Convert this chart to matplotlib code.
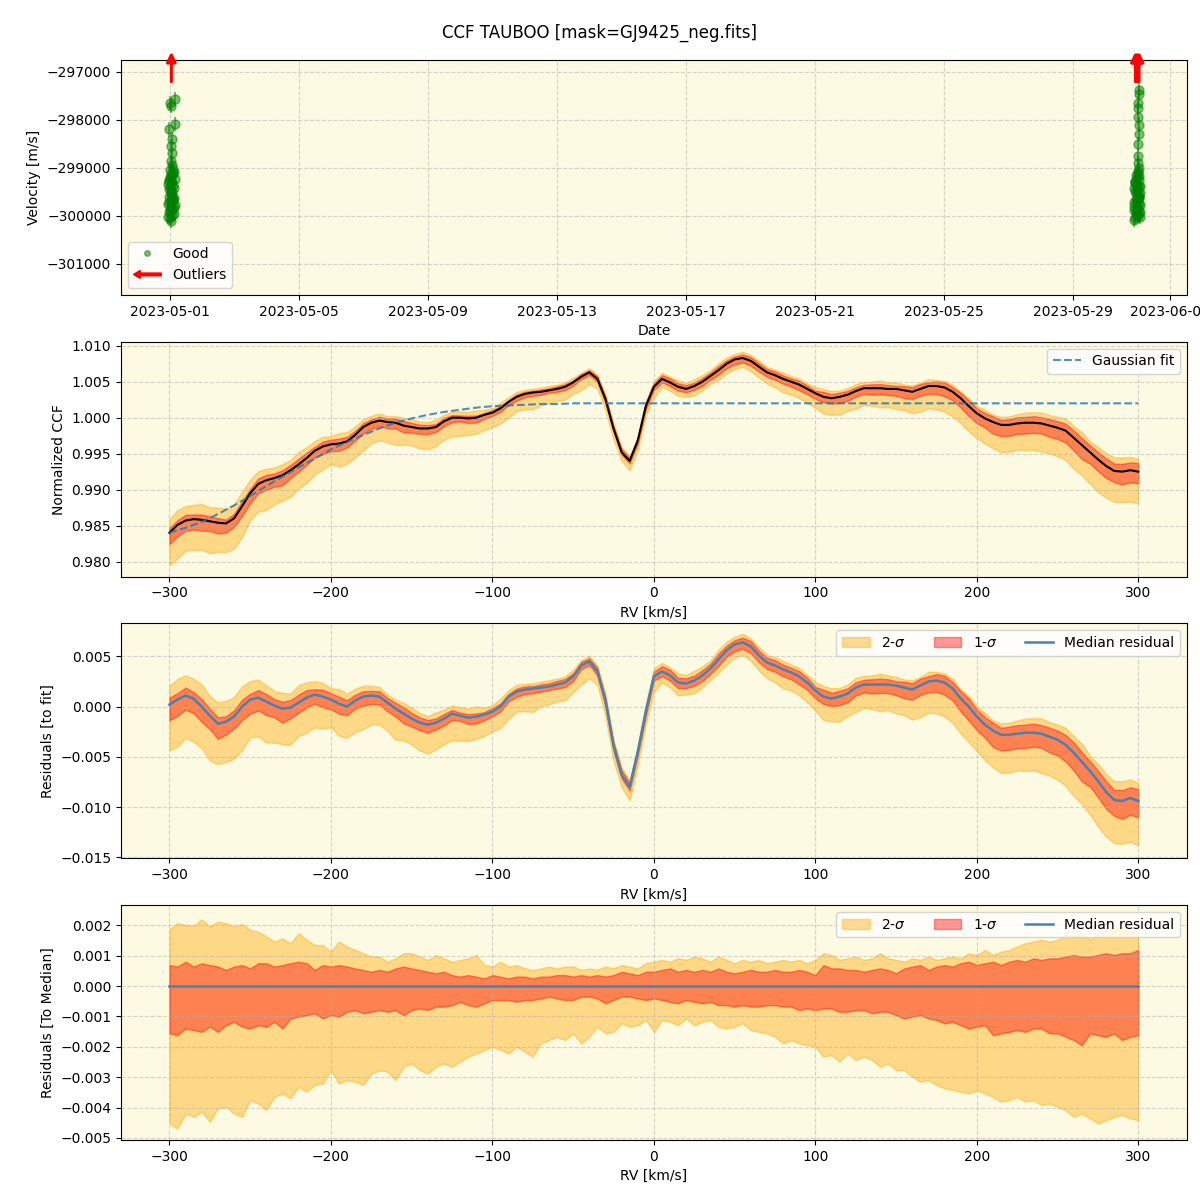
import numpy as np
import pandas as pd
import matplotlib
matplotlib.use('Agg')
import matplotlib.pyplot as plt
import matplotlib.patches as mpatches
from matplotlib.lines import Line2D
from matplotlib.legend_handler import HandlerPatch

# ---- top panel: RV time series (m/s) ----
vel_left = [-300050, -299980, -299920, -299870, -299800, -299750, -299700, -299650,
            -299600, -299550, -299500, -299450, -299400, -299350, -299300, -299250,
            -299200, -299150, -299100, -299050, -298950, -298850, -298700, -298550,
            -298400, -298200, -298080, -297700, -297650, -297560,
            -300100, -300020, -299960, -299900, -299820, -299720, -299620, -299520,
            -299420, -299330, -299230, -299130, -299080, -299020, -299880, -299680,
            -299480, -299280, -299780, -299580]
hours_left = [0.2, 1.5, -0.8, 2.2, 0.6, -1.2, 1.0, 2.6, -0.4, 0.9, 1.8, -1.0, 0.3, 2.4,
              1.2, -0.6, 0.0, 1.6, 2.0, -0.2, 1.4, 1.1, 1.7, 0.8, 1.3, -0.9, 3.7, 1.0,
              0.2, 3.7,
              1.0, -1.5, 3.0, 0.4, 2.8, -0.9, 3.2, 0.7, 2.9, -1.3, 3.4, 0.5, 2.7, 1.9,
              -0.3, 2.3, 1.1, -0.7, 3.5, 1.6]
vel_right = [-300050, -300000, -299950, -299900, -299850, -299800, -299750, -299700,
             -299650, -299600, -299550, -299500, -299450, -299400, -299350, -299300,
             -299250, -299200, -299100, -299000, -298900, -298750, -298500, -298300,
             -298100, -297950, -297750, -297650, -297450, -297380,
             -300080, -300020, -299970, -299880, -299780, -299680, -299580, -299480,
             -299380, -299280, -299180, -299150, -299060, -299920, -299720, -299520,
             -299320, -299620, -299820, -299420]
hours_right = [22.0, 24.5, 25.3, 23.0, 24.8, 21.6, 25.0, 23.8, 24.2, 25.4, 22.8, 24.6,
               23.4, 25.2, 24.0, 22.4, 24.9, 23.6, 24.4, 25.1, 24.7, 24.8, 24.6, 24.9,
               25.0, 24.5, 24.3, 24.8, 25.0, 24.9,
               21.8, 25.6, 23.2, 21.5, 25.7, 22.6, 25.5, 21.9, 25.8, 22.2, 25.3, 23.0,
               24.1, 25.9, 21.7, 25.6, 22.5, 25.2, 23.5, 21.6]
vel_err = 150
outlier_times = ['2023-05-01 01:00', '2023-05-30 22:30', '2023-05-30 23:15',
                 '2023-05-31 00:00', '2023-05-31 00:40', '2023-05-31 01:10']

# ---- CCF panels (RV grid in km/s) ----
rv = np.arange(-300, 301, 5)

ccf_med = [0.9840, 0.9851, 0.9857, 0.9859, 0.9858, 0.9856, 0.9854, 0.9853, 0.9860, 0.9877,
           0.9895, 0.9908, 0.9913, 0.9916, 0.9920, 0.9927, 0.9935, 0.9944, 0.9954, 0.9960,
           0.9963, 0.9964, 0.9967, 0.9976, 0.9987, 0.9993, 0.9996, 0.9994, 0.9993, 0.9989,
           0.9987, 0.9985, 0.9985, 0.9987, 0.9995, 1.0000, 1.0000, 0.9999, 1.0000, 1.0004,
           1.0007, 1.0013, 1.0022, 1.0029, 1.0033, 1.0035, 1.0036, 1.0038, 1.0040, 1.0043,
           1.0049, 1.0057, 1.0063, 1.0054, 1.0026, 0.9985, 0.9952, 0.9940, 0.9968, 1.0016,
           1.0043, 1.0054, 1.0049, 1.0043, 1.0040, 1.0044, 1.0050, 1.0058, 1.0066, 1.0075,
           1.0081, 1.0083, 1.0079, 1.0071, 1.0063, 1.0059, 1.0054, 1.0050, 1.0046, 1.0040,
           1.0034, 1.0029, 1.0027, 1.0029, 1.0032, 1.0037, 1.0041, 1.0041, 1.0041, 1.0040,
           1.0040, 1.0038, 1.0036, 1.0040, 1.0044, 1.0044, 1.0042, 1.0036, 1.0027, 1.0016,
           1.0006, 0.9999, 0.9994, 0.9990, 0.9990, 0.9992, 0.9993, 0.9993, 0.9992, 0.9989,
           0.9986, 0.9982, 0.9972, 0.9962, 0.9952, 0.9942, 0.9933, 0.9926, 0.9925, 0.9927,
           0.9925]

res_med = [0.0002, 0.0007, 0.0011, 0.0008, 0.0000, -0.0009, -0.0017, -0.0015, -0.0010, 0.0000,
           0.0007, 0.0009, 0.0005, 0.0001, -0.0002, -0.0001, 0.0004, 0.0009, 0.0012, 0.0010,
           0.0007, 0.0003, 0.0000, 0.0006, 0.0010, 0.0011, 0.0010, 0.0004, -0.0002, -0.0007,
           -0.0012, -0.0016, -0.0018, -0.0016, -0.0012, -0.0007, -0.0009, -0.0011, -0.0010, -0.0008,
           -0.0005, 0.0000, 0.0010, 0.0015, 0.0017, 0.0018, 0.0019, 0.0020, 0.0022, 0.0024,
           0.0030, 0.0041, 0.0045, 0.0035, 0.0006, -0.0039, -0.0068, -0.0080, -0.0045, -0.0005,
           0.0030, 0.0035, 0.0031, 0.0024, 0.0023, 0.0026, 0.0031, 0.0038, 0.0047, 0.0056,
           0.0062, 0.0064, 0.0060, 0.0051, 0.0044, 0.0041, 0.0037, 0.0034, 0.0030, 0.0024,
           0.0016, 0.0010, 0.0008, 0.0010, 0.0013, 0.0019, 0.0022, 0.0022, 0.0022, 0.0022,
           0.0021, 0.0019, 0.0017, 0.0021, 0.0025, 0.0026, 0.0024, 0.0018, 0.0008, 0.0000,
           -0.0010, -0.0018, -0.0024, -0.0028, -0.0028, -0.0027, -0.0026, -0.0026, -0.0027, -0.0030,
           -0.0033, -0.0038, -0.0046, -0.0055, -0.0064, -0.0074, -0.0085, -0.0093, -0.0094, -0.0091,
           -0.0094]

# spread of the CCF ensemble around its median, in units of 1e-3
sig2_up = [1.87, 2.07, 2.01, 1.98, 2.20, 1.96, 2.12, 2.07, 1.96, 2.04, 1.85, 1.79, 1.63, 1.46,
           1.57, 1.41, 1.74, 1.52, 1.35, 1.35, 1.13, 1.46, 1.30, 1.19, 1.08, 0.97, 0.97, 0.80,
           0.91, 1.08, 1.08, 0.97, 0.86, 1.02, 0.91, 0.80, 0.86, 0.91, 1.02, 0.69, 0.64, 0.80,
           0.64, 0.69, 0.58, 0.53, 0.58, 0.64, 0.58, 0.64, 0.64, 0.53, 0.58, 0.53, 0.64, 0.58,
           0.69, 0.64, 0.58, 0.75,
           0.80, 0.86, 0.80, 0.91, 0.86, 0.97, 0.91, 0.80, 0.97, 0.86, 0.75, 0.86, 0.80, 0.86,
           0.75, 0.80, 0.86, 0.80, 0.86, 0.75, 0.86, 1.08, 1.02, 0.86, 0.91, 0.97, 0.86, 0.91,
           1.08, 0.91, 0.86,
           0.80, 0.91, 0.86, 0.97, 0.86, 0.91, 0.97, 0.91, 1.08, 1.02, 1.19, 1.02, 1.13, 1.19,
           1.30, 1.41, 1.46, 1.52, 1.46, 1.52, 1.68, 1.63, 1.79, 1.52, 1.74, 1.79, 1.90, 1.96,
           1.85, 1.79]
sig1_up = [0.69, 0.64, 0.80, 0.64, 0.75, 0.69, 0.64, 0.53, 0.64, 0.69, 0.58, 0.75, 0.75, 0.64,
           0.69, 0.75, 0.80, 0.75, 0.53, 0.69, 0.64, 0.69, 0.64, 0.58, 0.53, 0.47, 0.53, 0.47,
           0.58, 0.64, 0.58, 0.53, 0.47, 0.42, 0.47, 0.36, 0.31, 0.36, 0.31, 0.25, 0.36, 0.31,
           0.25, 0.31, 0.31, 0.25, 0.31, 0.31, 0.36, 0.36, 0.31, 0.36, 0.31, 0.36, 0.31, 0.36,
           0.47, 0.42, 0.36, 0.47,
           0.47, 0.53, 0.58, 0.47, 0.53, 0.47, 0.53, 0.47, 0.58, 0.47, 0.42, 0.47, 0.53, 0.47,
           0.47, 0.53, 0.47, 0.47, 0.53, 0.47, 0.36, 0.69, 0.58, 0.58, 0.53, 0.53, 0.47, 0.53,
           0.58, 0.53, 0.42,
           0.58, 0.64, 0.69, 0.53, 0.64, 0.69, 0.64, 0.75, 0.80, 0.69, 0.75, 0.80, 0.69, 0.80,
           0.86, 0.80, 0.91, 0.86, 0.91, 0.91, 0.97, 1.02, 0.97, 0.97, 1.02, 1.08, 1.02, 1.08,
           1.08, 1.19]
sig1_dn = [-1.56, -1.62, -1.40, -1.45, -1.51, -1.34, -1.51, -1.29, -1.18, -1.34, -1.40, -1.29,
           -1.34, -1.18, -1.40, -1.07, -1.01, -0.96, -0.90, -1.07, -0.96, -1.01, -0.85, -0.79,
           -0.90, -0.85, -0.79, -0.85,
           -0.79, -0.96, -0.79, -0.74, -0.79, -0.68, -0.68, -0.63, -0.52, -0.63, -0.68, -0.57,
           -0.46, -0.46, -0.46, -0.52, -0.46, -0.46, -0.41, -0.35, -0.41, -0.46, -0.46, -0.35,
           -0.35, -0.41, -0.57, -0.46, -0.35, -0.35, -0.41, -0.46,
           -0.41, -0.46, -0.52, -0.57, -0.46, -0.52, -0.57, -0.52, -0.63, -0.63, -0.68, -0.63,
           -0.68, -0.68, -0.63, -0.63, -0.68, -0.68, -0.79, -0.74, -0.79, -0.74, -0.74, -0.85,
           -0.85, -0.79, -0.79, -0.90, -0.85, -0.85, -0.96,
           -1.07, -1.01, -0.96, -1.07, -1.12, -1.23, -1.18, -1.29, -1.40, -1.34, -1.29, -1.62,
           -1.56, -1.51, -1.45, -1.51, -1.40, -1.40, -1.56, -1.56, -1.67, -1.78, -1.95, -1.56,
           -1.62, -1.67, -1.56, -1.78, -1.67, -1.62]
sig2_dn = [-4.53, -4.69, -4.20, -4.31, -4.14, -4.47, -4.03, -3.98, -4.20, -4.31, -3.76, -3.87,
           -4.09, -3.65, -3.54, -3.70, -3.32, -3.48, -3.26, -3.21, -2.77, -3.21, -3.10, -3.15,
           -3.26, -2.88, -2.77, -2.82,
           -3.10, -2.66, -2.55, -2.77, -2.88, -2.66, -2.55, -2.66, -2.49, -2.33, -2.22, -2.11,
           -2.00, -2.11, -2.22, -2.00, -2.16, -2.33, -1.89, -1.78, -1.67, -1.78, -1.56, -1.89,
           -1.67, -1.34, -1.56, -1.51, -1.23, -1.34, -1.29, -1.12,
           -1.51, -1.12, -1.18, -1.29, -1.07, -1.29, -1.18, -1.12, -1.34, -1.40, -1.34, -1.23,
           -1.45, -1.51, -1.56, -1.67, -1.89, -1.78, -1.89, -1.95, -2.00, -2.33, -2.27, -2.49,
           -2.22, -2.44, -2.33, -2.44, -2.66, -2.55, -2.77,
           -2.77, -2.99, -3.15, -3.10, -3.26, -3.37, -3.43, -3.48, -3.54, -3.43, -3.54, -3.65,
           -3.81, -3.76, -3.65, -3.81, -3.76, -3.92, -3.87, -3.98, -4.09, -4.31, -4.20, -4.36,
           -4.53, -4.42, -4.31, -4.25, -4.36, -4.42]

# Gaussian fit, 10 km/s grid
rv_fit = np.arange(-300, 301, 10)
gauss_fit = [0.9840, 0.9847, 0.9855, 0.9866, 0.9878, 0.9891, 0.9905, 0.9918, 0.9931, 0.9943,
             0.9956, 0.9966, 0.9976, 0.9985, 0.9993, 0.9999, 1.0004, 1.0008, 1.0011, 1.0014,
             1.0016, 1.0017, 1.0018, 1.0019, 1.0019, 1.0020, 1.0020, 1.0020, 1.0020, 1.0020,
             1.0020, 1.0020, 1.0020, 1.0020, 1.0020, 1.0020, 1.0020, 1.0020, 1.0020, 1.0020,
             1.0020, 1.0020, 1.0020, 1.0020, 1.0020, 1.0020, 1.0020, 1.0020, 1.0020, 1.0020,
             1.0020, 1.0020, 1.0020, 1.0020, 1.0020, 1.0020, 1.0020, 1.0020, 1.0020, 1.0020,
             1.0020]

bg = '#fcfae2'

ccf_med = np.array(ccf_med)
res_med = np.array(res_med)
s2u = np.array(sig2_up) * 1e-3
s1u = np.array(sig1_up) * 1e-3
s1d = np.array(sig1_dn) * 1e-3
s2d = np.array(sig2_dn) * 1e-3


def make_arrow(legend, orig_handle, xdescent, ydescent, width, height, fontsize):
    y = height / 2 - ydescent
    return mpatches.FancyArrow(width - xdescent, y, -width, 0, width=height * 0.28,
                               head_width=height * 0.8, head_length=height * 0.7,
                               length_includes_head=True, color='red')


fig, axes = plt.subplots(4, 1, figsize=(12, 12), dpi=100)
fig.subplots_adjust(left=0.1008, right=0.989, top=0.95, bottom=0.05, hspace=0.2)
fig.suptitle('CCF TAUBOO [mask=GJ9425_neg.fits]', fontsize=12)

# ---- panel 1 ----
ax = axes[0]
ax.set_facecolor(bg)
t_left = (pd.Timestamp('2023-05-01') + pd.to_timedelta(hours_left, unit='h')).to_pydatetime()
t_right = (pd.Timestamp('2023-05-30') + pd.to_timedelta(hours_right, unit='h')).to_pydatetime()
for tt, vv in [(t_left, vel_left), (t_right, vel_right)]:
    ax.errorbar(tt, vv, yerr=vel_err, fmt='o', color='green', alpha=0.5, markersize=6.5,
                elinewidth=1.5)
for ts in pd.to_datetime(outlier_times).to_pydatetime():
    ax.annotate('', xy=(ts, 1.035), xytext=(ts, 0.908),
                xycoords=('data', 'axes fraction'), annotation_clip=False,
                arrowprops=dict(arrowstyle='-|>', color='red', lw=2.2, mutation_scale=14,
                                shrinkA=0, shrinkB=0))
ax.set_xlim(pd.Timestamp('2023-04-29 11:30'), pd.Timestamp('2023-06-01 12:45'))
ax.set_ylim(-301650, -296750)
ax.set_ylabel('Velocity [m/s]')
ax.set_xlabel('Date')
ax.grid(True, linestyle='--', alpha=0.5)
good_h = Line2D([], [], marker='o', color='green', alpha=0.5, linestyle='none', markersize=4)
out_h = mpatches.FancyArrow(0, 0, 1, 0, color='red')
ax.legend([good_h, out_h], ['Good', 'Outliers'], loc='lower left',
          handler_map={mpatches.FancyArrow: HandlerPatch(patch_func=make_arrow)})

# ---- panel 2 ----
ax = axes[1]
ax.set_facecolor(bg)
ax.fill_between(rv, ccf_med + s2d, ccf_med + s2u, color='orange', alpha=0.4)
ax.fill_between(rv, ccf_med + s1d, ccf_med + s1u, color='red', alpha=0.4)
ax.plot(rv, ccf_med, color='black', lw=1.5)
ax.plot(rv_fit, gauss_fit, color='tab:blue', ls='--', lw=1.5, alpha=0.8, label='Gaussian fit')
ax.set_ylim(0.97792, 1.01056)
ax.set_ylabel('Normalized CCF')
ax.set_xlabel('RV [km/s]')
ax.grid(True, linestyle='--', alpha=0.5)
ax.legend(loc='upper right')

# ---- panel 3 ----
ax = axes[2]
ax.set_facecolor(bg)
ax.fill_between(rv, res_med + s2d, res_med + s2u, color='orange', alpha=0.4, label='2-$\\sigma$')
ax.fill_between(rv, res_med + s1d, res_med + s1u, color='red', alpha=0.4, label='1-$\\sigma$')
ax.plot(rv, res_med, color='steelblue', lw=1.8, label='Median residual')
ax.set_ylim(-0.0151, 0.00828)
ax.set_ylabel('Residuals [to fit]')
ax.set_xlabel('RV [km/s]')
ax.grid(True, linestyle='--', alpha=0.5)
ax.legend(loc='upper right', ncol=3)

# ---- panel 4 ----
ax = axes[3]
ax.set_facecolor(bg)
ax.fill_between(rv, s2d, s2u, color='orange', alpha=0.4, label='2-$\\sigma$')
ax.fill_between(rv, s1d, s1u, color='red', alpha=0.4, label='1-$\\sigma$')
ax.plot(rv, np.zeros(len(rv)), color='steelblue', lw=1.8, label='Median residual')
ax.set_ylim(-0.00507, 0.00266)
ax.set_ylabel('Residuals [To Median]')
ax.set_xlabel('RV [km/s]')
ax.grid(True, linestyle='--', alpha=0.5)
ax.legend(loc='upper right', ncol=3)

for ax in axes[1:]:
    ax.set_xlim(-330, 330)

fig.savefig('out.png', dpi=100)
